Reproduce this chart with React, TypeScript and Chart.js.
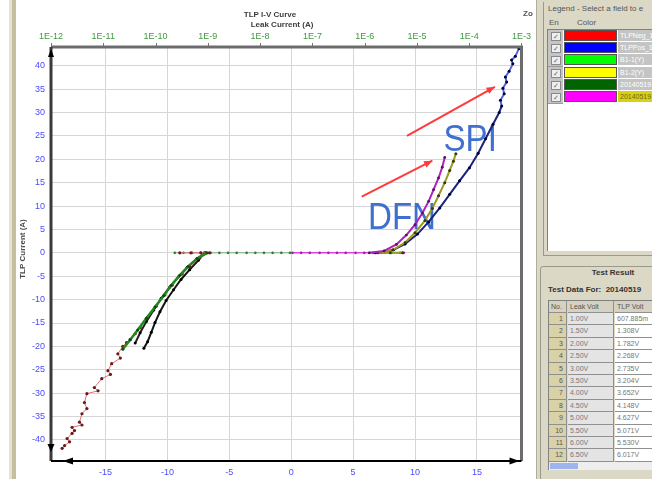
import React, { useEffect, useRef } from "react";
import { Chart, registerables } from "chart.js";

Chart.register(...registerables);

// ---------- axis ticks ----------
const bottomTicks = [-15, -10, -5, 0, 5, 10, 15];
const leftTicks = [-40, -35, -30, -25, -20, -15, -10, -5, 0, 5, 10, 15, 20, 25, 30, 35, 40];
const topTicks = [1e-12, 1e-11, 1e-10, 1e-9, 1e-8, 1e-7, 1e-6, 1e-5, 1e-4, 1e-3];
const topTickLabels = ["1E-12", "1E-11", "1E-10", "1E-9", "1E-8", "1E-7", "1E-6", "1E-5", "1E-4", "1E-3"];

// ---------- series (TLP Volt, TLP Current) ----------
const negRedV = [-9.0, -8.1, -7.3, -6.6, -7.4, -8.2, -8.8, -9.6, -10.2, -10.9, -11.6, -12.2, -12.6, -13.0, -13.3, -13.6, -14.0, -13.8, -14.5, -14.8, -14.6, -15.3, -15.9, -15.6, -16.5, -16.7, -16.5, -16.9, -17.1, -16.9, -17.7, -17.5, -17.7, -18.1, -17.9, -18.3, -18.5];
const negRedI = [0, 0, 0, 0, -1.1, -2.9, -4.5, -6.9, -9.0, -11.4, -13.8, -16.0, -17.3, -18.5, -19.2, -20.0, -21.6, -22.5, -23.7, -25.2, -26.0, -26.9, -28.8, -29.5, -30.1, -32.0, -33.3, -34.4, -36.2, -36.8, -37.3, -38.0, -38.6, -39.7, -40.4, -41.2, -41.8];

const negGreenV = [-6.8, -7.6, -8.3, -9.0, -9.7, -10.3, -11.0, -11.7, -12.4, -13.0, -13.6];
const negGreenI = [0, -1.2, -2.9, -4.8, -7.0, -9.2, -11.6, -14.0, -16.5, -18.6, -20.6];

const negBlackAV = [-7.0, -7.5, -8.2, -8.9, -9.5, -10.1, -10.6, -11.0, -11.3, -11.6, -11.9];
const negBlackAI = [0, -1.6, -3.6, -5.7, -7.9, -10.2, -12.6, -14.9, -17.0, -19.0, -20.4];

const negBlackBV = [-6.9, -7.6, -8.4, -9.1, -9.8, -10.5, -11.1, -11.7, -12.2, -12.6];
const negBlackBI = [0, -1.2, -3.1, -5.1, -7.3, -9.7, -12.2, -14.7, -17.1, -19.3];

const zeroGreenV = [-9.4, -8.7, -8.0, -7.3, -6.5, -5.8, -5.1, -4.4, -3.6, -2.9, -2.2, -1.5, -0.8, -0.1];
const zeroGreenI = [0, 0, 0, 0, 0, 0, 0, 0, 0, 0, 0, 0, 0, 0];

const zeroMagentaV = [0.1, 0.8, 1.5, 2.3, 3.0, 3.7, 4.4, 5.2, 5.9, 6.6, 7.3, 8.1, 8.8, 9.1];
const zeroMagentaI = [0, 0, 0, 0, 0, 0, 0, 0, 0, 0, 0, 0, 0, 0];

const posMagentaV = [6.3, 7.5, 8.5, 9.3, 10.0, 10.6, 11.1, 11.5, 11.9, 12.2, 12.4];
const posMagentaI = [0, 0.4, 1.8, 3.8, 6.0, 8.5, 11.0, 13.5, 16.0, 18.3, 20.4];

const posOliveV = [9.0, 8.0, 7.0, 8.2, 9.2, 10.0, 10.8, 11.4, 11.9, 12.4, 12.8, 13.1, 13.3];
const posOliveI = [0, 0, 0, 0.6, 2.2, 4.3, 6.9, 9.5, 12.2, 15.0, 17.6, 19.6, 21.2];

const posNavyV = [6.8, 7.6, 8.3, 9.2, 10.2, 11.1, 12.0, 12.8, 13.6, 14.4, 15.1, 15.7, 16.3, 16.8, 17.0, 16.9, 17.2, 17.1, 17.4, 17.3, 17.6, 17.9, 17.8, 18.1, 18.4];
const posNavyI = [0, 0.2, 0.7, 1.9, 4.0, 6.6, 9.6, 12.5, 15.4, 18.2, 21.3, 24.4, 27.5, 30.0, 31.4, 32.6, 34.0, 35.2, 36.5, 37.6, 38.8, 40.4, 41.2, 42.0, 43.7];

// ---------- annotations (data coordinates) ----------
const spiLabel = { text: "SPI", v: 12.3, i: 23.8 };
const dfnLabel = { text: "DFN", v: 6.2, i: 7.3 };
const arrowSPI = { v0: 9.35, i0: 25.0, v1: 16.45, i1: 35.5 };
const arrowDFN = { v0: 5.7, i0: 12.0, v1: 11.4, i1: 19.7 };

// ---------- side panels ----------
const legendColors = ["#ff0000", "#0000ff", "#00ff00", "#ffff00", "#006400", "#ff00ff"];
const legendNames = ["TLPNeg_1", "TLPPos_1", "B1-1(Y)", "B1-2(Y)", "20140519", "20140519"];
const rowNos = ["1", "2", "3", "4", "5", "6", "7", "8", "9", "10", "11", "12"];
const leakVolts = ["1.00V", "1.50V", "2.00V", "2.50V", "3.00V", "3.50V", "4.00V", "4.50V", "5.00V", "5.50V", "6.00V", "6.50V"];
const tlpVolts = ["607.885m", "1.308V", "1.782V", "2.268V", "2.735V", "3.204V", "3.652V", "4.148V", "4.627V", "5.071V", "5.530V", "6.017V"];

const pts = (xs: number[], ys: number[]) => xs.map((v, k) => ({ x: v, y: ys[k] }));

function arrow(ctx: CanvasRenderingContext2D, x0: number, y0: number, x1: number, y1: number) {
  ctx.beginPath();
  ctx.moveTo(x0, y0);
  ctx.lineTo(x1, y1);
  ctx.stroke();
  const a = Math.atan2(y1 - y0, x1 - x0);
  const L = 9;
  ctx.beginPath();
  ctx.moveTo(x1, y1);
  ctx.lineTo(x1 - L * Math.cos(a - 0.4), y1 - L * Math.sin(a - 0.4));
  ctx.lineTo(x1 - L * Math.cos(a + 0.4), y1 - L * Math.sin(a + 0.4));
  ctx.closePath();
  ctx.fill();
}

const annotPlugin = {
  id: "annot",
  beforeDatasetsDraw(chart: any) {
    const { ctx, scales } = chart;
    const x = scales.x, y = scales.y;
    ctx.save();
    ctx.fillStyle = "#3f6fcf";
    ctx.font = "36px 'Liberation Sans', Arial, sans-serif";
    ctx.textBaseline = "middle";
    for (const l of [spiLabel, dfnLabel]) {
      ctx.save();
      ctx.translate(x.getPixelForValue(l.v), y.getPixelForValue(l.i));
      ctx.scale(0.92, 1);
      ctx.fillText(l.text, 0, 0);
      ctx.restore();
    }
    ctx.strokeStyle = "#ff3a3a";
    ctx.fillStyle = "#ff3a3a";
    ctx.lineWidth = 2;
    for (const a of [arrowSPI, arrowDFN]) {
      arrow(ctx, x.getPixelForValue(a.v0), y.getPixelForValue(a.i0), x.getPixelForValue(a.v1), y.getPixelForValue(a.i1));
    }
    ctx.restore();
  },
};

const framePlugin = {
  id: "frame",
  afterDraw(chart: any) {
    const { ctx, chartArea, scales } = chart;
    const { left, right, top, bottom } = chartArea;
    ctx.save();
    // top tick marks of the log axis
    ctx.strokeStyle = "#777";
    ctx.lineWidth = 1;
    for (const t of topTicks) {
      const px = Math.round(scales.x2.getPixelForValue(t)) + 0.5;
      ctx.beginPath();
      ctx.moveTo(px, top - 4);
      ctx.lineTo(px, top);
      ctx.stroke();
    }
    // frame
    ctx.lineWidth = 3;
    ctx.strokeStyle = "#6c6c6c";
    ctx.beginPath();
    ctx.moveTo(left, top);
    ctx.lineTo(right, top);
    ctx.lineTo(right, bottom);
    ctx.stroke();
    ctx.strokeStyle = "#3a3a3a";
    ctx.beginPath();
    ctx.moveTo(left, top);
    ctx.lineTo(left, bottom);
    ctx.stroke();
    ctx.lineWidth = 2;
    ctx.strokeStyle = "#000";
    ctx.beginPath();
    ctx.moveTo(left, bottom);
    ctx.lineTo(right, bottom);
    ctx.stroke();
    // cursor arrows
    ctx.fillStyle = "#000";
    const tri = (p: number[][]) => {
      ctx.beginPath();
      ctx.moveTo(p[0][0], p[0][1]);
      ctx.lineTo(p[1][0], p[1][1]);
      ctx.lineTo(p[2][0], p[2][1]);
      ctx.closePath();
      ctx.fill();
    };
    tri([[left + 12, bottom], [left + 22, bottom - 3.5], [left + 22, bottom + 3.5]]);
    tri([[right - 2, bottom], [right - 12, bottom - 3.5], [right - 12, bottom + 3.5]]);
    const yl = scales.y.getPixelForValue(-41.5);
    tri([[left, yl + 5], [left - 3.5, yl - 3], [left + 3.5, yl - 3]]);
    tri([[left, top + 2], [left - 3, top + 10], [left + 3, top + 10]]);
    // titles
    ctx.fillStyle = "#3c3c3c";
    ctx.textAlign = "center";
    ctx.textBaseline = "middle";
    ctx.font = "bold 8px 'Liberation Sans', Arial, sans-serif";
    ctx.fillText("TLP I-V Curve", 270, 15);
    ctx.fillText("Leak Current (A)", 282, 25);
    ctx.fillText("TLP Volt (V)", 292, 482);
    ctx.fillStyle = "#555";
    ctx.fillText("Zo", 528, 14);
    ctx.save();
    ctx.translate(23, 249);
    ctx.rotate(-Math.PI / 2);
    ctx.fillStyle = "#4a4a4a";
    ctx.fillText("TLP Current (A)", 0, 0);
    ctx.restore();
    ctx.restore();
  },
};

function TlpChart() {
  const ref = useRef<HTMLCanvasElement>(null);
  useEffect(() => {
    const line = (data: any, color: string, pointColor: string, width: number, radius: number, order: number, extra: any = {}) => ({
      data,
      showLine: true,
      borderColor: color,
      borderWidth: width,
      pointRadius: radius,
      pointBackgroundColor: pointColor,
      pointBorderColor: pointColor,
      pointBorderWidth: 0,
      tension: 0,
      order,
      ...extra,
    });
    const chart = new Chart(ref.current as HTMLCanvasElement, {
      type: "scatter",
      data: {
        datasets: [
          line(pts(zeroGreenV, zeroGreenI), "#7fb07f", "#2e7d2e", 1, 1.3, 9),
          line(pts(zeroMagentaV, zeroMagentaI), "#e040e0", "#a020a0", 1.5, 1.3, 9),
          line(pts(negBlackAV, negBlackAI), "#151515", "#000", 2, 1.5, 5),
          line(pts(negBlackBV, negBlackBI), "#202020", "#000", 2, 1.5, 5),
          line(pts(negRedV, negRedI), "#e07070", "#6a1a1a", 1, 1.6, 4),
          line(pts(negGreenV, negGreenI), "#1f8a1f", "#0d4d0d", 2.5, 1.5, 3),
          line(pts(posNavyV, posNavyI), "#1a237e", "#000033", 2, 1.5, 6, {
            segment: { borderColor: (c: any) => (c.p0.parsed.y > 30 ? "#5068e8" : "#1a237e") },
          }),
          line(pts(posOliveV, posOliveI), "#9a9a1e", "#3a3a10", 2, 1.5, 4),
          line(pts(posMagentaV, posMagentaI), "#b020c0", "#5a1060", 2, 1.4, 3),
        ],
      },
      options: {
        responsive: false,
        maintainAspectRatio: false,
        animation: false,
        events: [],
        layout: { padding: { left: 0, right: 13, top: 0, bottom: 0 } },
        plugins: { legend: { display: false }, tooltip: { enabled: false }, title: { display: false } },
        scales: {
          x: {
            type: "linear",
            position: "bottom",
            min: -19.4,
            max: 18.6,
            afterBuildTicks: (s: any) => {
              s.ticks = bottomTicks.map((v) => ({ value: v }));
            },
            afterFit: (s: any) => {
              s.height = 18;
            },
            grid: { color: "#d6d6d6", drawTicks: false, lineWidth: 1 },
            border: { display: false },
            ticks: { color: "#4b4bff", font: { size: 9, family: "'Liberation Sans', Arial, sans-serif" }, padding: 6, maxRotation: 0, autoSkip: false },
          },
          x2: {
            type: "logarithmic",
            position: "top",
            min: 1e-12,
            max: 1e-3,
            afterBuildTicks: (s: any) => {
              s.ticks = topTicks.map((v) => ({ value: v }));
            },
            afterFit: (s: any) => {
              s.height = 47;
            },
            grid: { display: false, drawTicks: false },
            border: { display: false },
            ticks: {
              color: "#3c9a3c",
              font: { size: 9, family: "'Liberation Sans', Arial, sans-serif" },
              padding: 5,
              maxRotation: 0,
              autoSkip: false,
              callback: (_v: any, idx: number) => topTickLabels[idx],
            },
          },
          y: {
            type: "linear",
            position: "left",
            min: -44.5,
            max: 44,
            afterBuildTicks: (s: any) => {
              s.ticks = leftTicks.map((v) => ({ value: v }));
            },
            afterFit: (s: any) => {
              s.width = 51;
            },
            grid: { color: "#d6d6d6", drawTicks: false, lineWidth: 1 },
            border: { display: false },
            ticks: { color: "#4b4bff", font: { size: 9, family: "'Liberation Sans', Arial, sans-serif" }, padding: 6, autoSkip: false },
          },
        },
      } as any,
      plugins: [annotPlugin, framePlugin],
    });
    return () => chart.destroy();
  }, []);
  return <canvas ref={ref} width={536} height={479} style={{ position: "absolute", left: 0, top: 0, width: 536, height: 479 }} />;
}

const font = "'Liberation Sans', Arial, sans-serif";

function LegendPanel() {
  return (
    <div style={{ position: "absolute", left: 0, top: 0, width: 116, height: 256 }}>
      <div style={{ position: "absolute", left: 6, top: 2, width: 110, height: 253, borderLeft: "1px solid #9a9a8a", borderBottom: "1px solid #9a9a8a" }} />
      <div style={{ position: "absolute", left: 11, top: 4, fontSize: 8, color: "#555", whiteSpace: "nowrap", fontFamily: font }}>Legend - Select a field to e</div>
      <div style={{ position: "absolute", left: 12, top: 18, fontSize: 8, color: "#555", fontFamily: font }}>En</div>
      <div style={{ position: "absolute", left: 40, top: 18, fontSize: 8, color: "#555", fontFamily: font }}>Color</div>
      <div style={{ position: "absolute", left: 10, top: 29, width: 110, height: 221, background: "#fff", borderTop: "1px solid #808080", borderLeft: "1px solid #808080" }} />
      {legendColors.map((c, k) => (
        <div key={k} style={{ position: "absolute", left: 11, top: 30 + k * 12.2, width: 110, height: 12 }}>
          <div style={{ position: "absolute", left: 0, top: 0, width: 15, height: 12, background: "#c4c4c4", borderBottom: "1px solid #9a9a9a" }}>
            <div style={{ position: "absolute", left: 3, top: 2, width: 8, height: 7, background: "#eee", border: "1px solid #888", fontSize: 7, lineHeight: "7px", color: "#666", textAlign: "center", fontFamily: font }}>✓</div>
          </div>
          <div style={{ position: "absolute", left: 16, top: 0, width: 53, height: 11, background: c, border: "1px solid #555", boxSizing: "border-box" }} />
          <div style={{ position: "absolute", left: 70, top: 0, width: 40, height: 11, background: k === 5 ? "#d8d010" : "#c4c4c4", fontSize: 7, lineHeight: "11px", color: k === 5 ? "#6a6a20" : "#fff", overflow: "hidden", whiteSpace: "nowrap", paddingLeft: 2, fontFamily: font }}>{legendNames[k]}</div>
        </div>
      ))}
    </div>
  );
}

function ResultPanel() {
  const rowH = 12.4;
  return (
    <div style={{ position: "absolute", left: 0, top: 262, width: 116, height: 217 }}>
      <div style={{ position: "absolute", left: 3, top: 4, width: 120, height: 215, border: "1px solid #9a9a8a", borderRadius: 3, boxSizing: "border-box" }} />
      <div style={{ position: "absolute", left: 40, top: 6, width: 72, textAlign: "center", fontSize: 8, fontWeight: "bold", color: "#333", fontFamily: font }}>Test Result</div>
      <div style={{ position: "absolute", left: 11, top: 23, fontSize: 8, fontWeight: "bold", color: "#333", whiteSpace: "nowrap", fontFamily: font }}>Test Data For:&nbsp; 20140519</div>
      <div style={{ position: "absolute", left: 11, top: 38, width: 110, height: 13, background: "#d6d2c2", borderTop: "1px solid #808080", borderLeft: "1px solid #808080" }}>
        {["No.", "Leak Volt", "TLP Volt"].map((h, k) => (
          <div key={k} style={{ position: "absolute", left: [0, 19, 66][k], top: 0, width: [18, 46, 46][k], height: 12, borderRight: "1px solid #909090", borderBottom: "1px solid #909090", fontSize: 7, lineHeight: "12px", color: "#555", paddingLeft: 2, boxSizing: "border-box", whiteSpace: "nowrap", fontFamily: font }}>{h}</div>
        ))}
      </div>
      {rowNos.map((n, k) => (
        <div key={k} style={{ position: "absolute", left: 11, top: 51 + k * rowH, width: 110, height: rowH, borderLeft: "1px solid #808080" }}>
          <div style={{ position: "absolute", left: 0, top: 0, width: 18, height: rowH, background: "#d9d2a8", borderRight: "1px solid #909090", borderBottom: "1px solid #909090", boxSizing: "border-box", fontSize: 7, lineHeight: "11px", color: "#555", textAlign: "right", paddingRight: 3, fontFamily: font }}>{n}</div>
          <div style={{ position: "absolute", left: 19, top: 0, width: 46, height: rowH, background: "#e4e4e4", borderRight: "1px solid #909090", borderBottom: "1px solid #909090", boxSizing: "border-box", fontSize: 7, lineHeight: "11px", color: "#777", paddingLeft: 2, fontFamily: font }}>{leakVolts[k]}</div>
          <div style={{ position: "absolute", left: 66, top: 0, width: 46, height: rowH, background: "#fff", borderBottom: "1px solid #909090", boxSizing: "border-box", fontSize: 7, lineHeight: "11px", color: "#777", paddingLeft: 2, whiteSpace: "nowrap", overflow: "hidden", fontFamily: font }}>{tlpVolts[k]}</div>
        </div>
      ))}
      <div style={{ position: "absolute", left: 11, top: 51 + 12 * rowH, width: 110, height: 8, background: "#eeeeee", borderLeft: "1px solid #808080" }}>
        <div style={{ position: "absolute", left: 1, top: 1, width: 28, height: 6, background: "#9db4f0" }} />
      </div>
    </div>
  );
}

export default function App() {
  return (
    <div style={{ position: "absolute", left: 0, top: 0, width: 652, height: 479, overflow: "hidden", background: "#fff", fontFamily: font }}>
      <TlpChart />
      <div style={{ position: "absolute", left: 9, top: 0, width: 3, height: 479, background: "#e4e2d6" }} />
      <div style={{ position: "absolute", left: 12, top: 0, width: 4, height: 479, background: "#c6bf9e" }} />
      <div style={{ position: "absolute", left: 536, top: 0, width: 116, height: 479, background: "#dcd8c6", borderLeft: "1px solid #b0ad9e" }}>
        <LegendPanel />
        <ResultPanel />
      </div>
    </div>
  );
}
